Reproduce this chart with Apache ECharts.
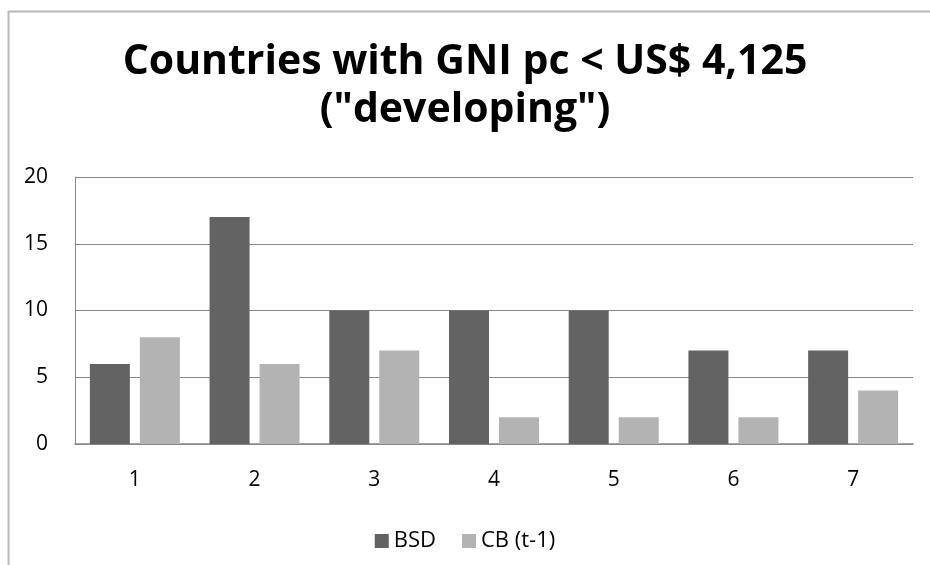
<!DOCTYPE html>
<html><head><meta charset="utf-8">
<script src="https://cdn.jsdelivr.net/npm/echarts@6/dist/echarts.min.js"></script>
<style>html,body{margin:0;padding:0;background:#fff}#c{width:930px;height:565px}</style>
</head><body><div id="c"></div>
<script>
const categories = ['1','2','3','4','5','6','7'];
const bsd = [6, 17, 10, 10, 10, 7, 7];
const cb = [8, 6, 7, 2, 2, 2, 4];
const yTicks = [0, 5, 10, 15, 20];
const font = 'Open Sans';
const chart = echarts.init(document.getElementById('c'));
chart.setOption({
  animation: false,
  textStyle: {fontFamily: font},
  title: {
    text: 'Countries with GNI pc < US$ 4,125\n("developing")',
    left: 'center', top: 33,
    textStyle: {fontSize: 41, fontWeight: 'bold', color: '#000', lineHeight: 48, fontFamily: font}
  },
  graphic: [
    {type: 'line', shape: {x1: 8.5, y1: 11, x2: 8.5, y2: 565}, style: {stroke: '#b8b8b8', lineWidth: 2}},
    {type: 'line', shape: {x1: 8, y1: 11.5, x2: 930, y2: 11.5}, style: {stroke: '#b8b8b8', lineWidth: 2}}
  ],
  legend: {
    bottom: 8, left: 'center', itemWidth: 14, itemHeight: 14, itemGap: 26,
    icon: 'rect',
    textStyle: {fontSize: 22, color: '#000', fontFamily: font},
    data: ['BSD', 'CB (t-1)']
  },
  grid: {left: 75, right: 17, top: 177, bottom: 121, containLabel: false},
  xAxis: {
    type: 'category', data: categories,
    axisLine: {lineStyle: {color: '#888', width: 1.5}},
    axisTick: {show: false},
    axisLabel: {fontSize: 21, color: '#000', margin: 26}
  },
  yAxis: {
    type: 'value', min: yTicks[0], max: yTicks[yTicks.length-1], interval: 5,
    axisLine: {show: true, lineStyle: {color: '#888'}},
    axisTick: {show: false},
    splitLine: {lineStyle: {color: '#888', width: 1}},
    axisLabel: {fontSize: 21, color: '#000', margin: 27}
  },
  series: [
    {name: 'BSD', type: 'bar', data: bsd, barWidth: 40, barGap: '25%', itemStyle: {color: '#636363'}},
    {name: 'CB (t-1)', type: 'bar', data: cb, barWidth: 40, itemStyle: {color: '#b3b3b3'}}
  ]
});
</script></body></html>
